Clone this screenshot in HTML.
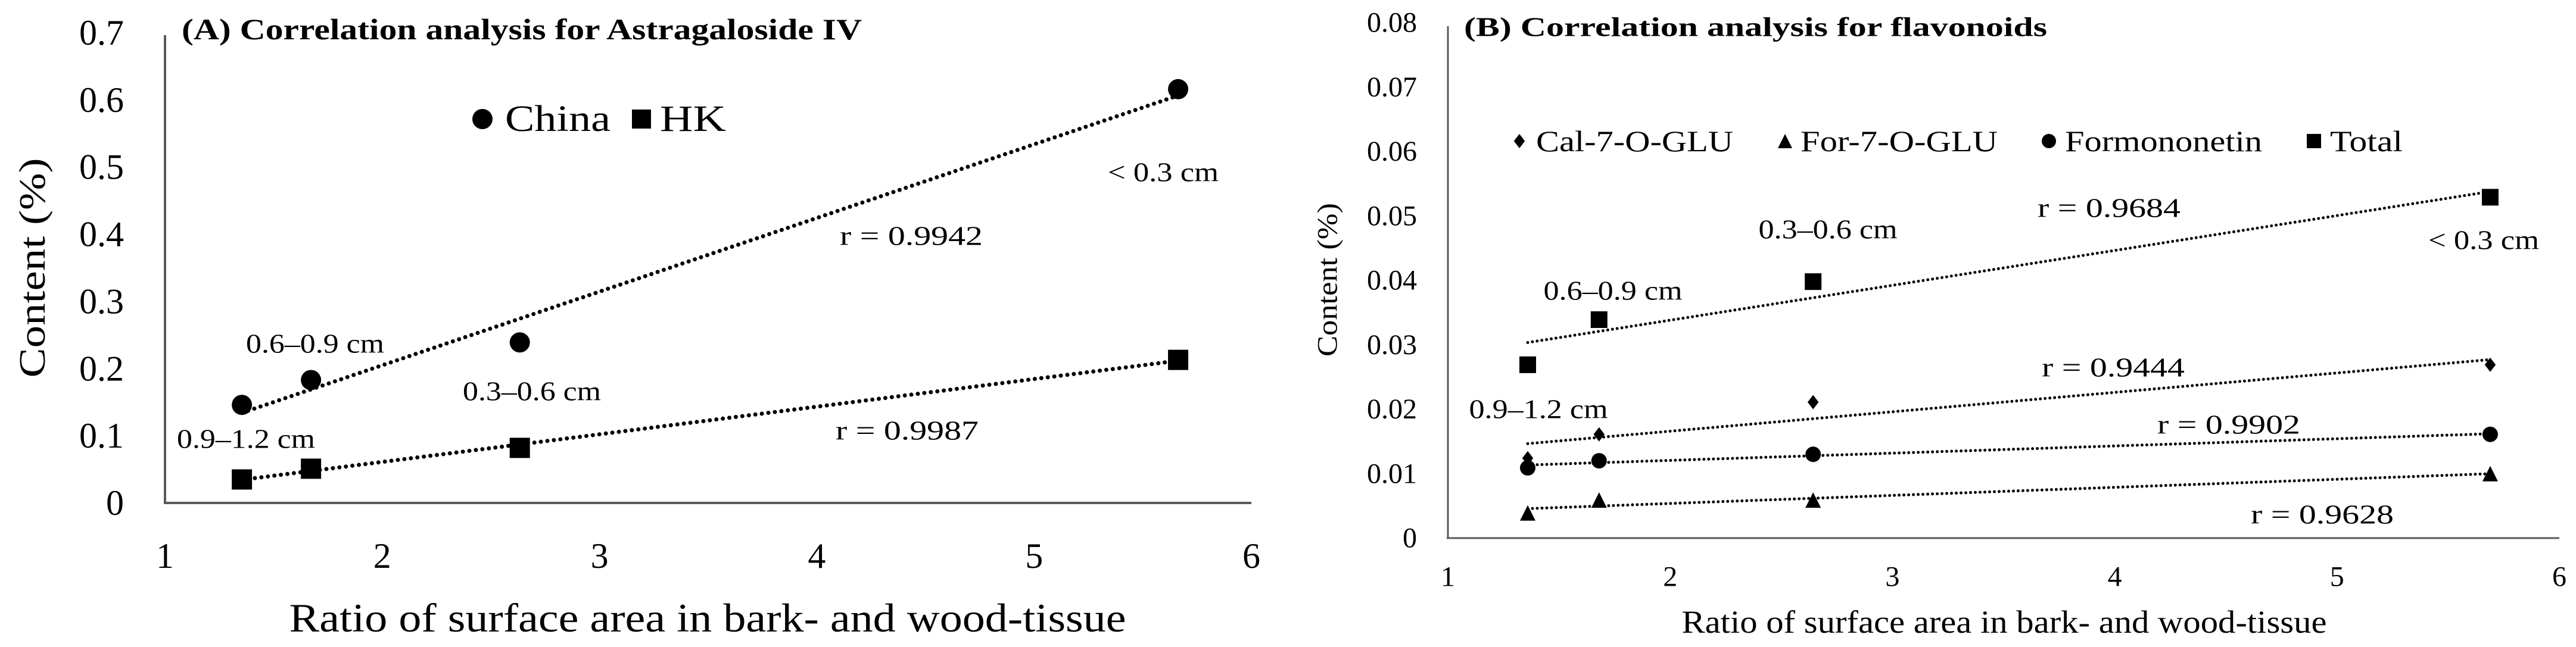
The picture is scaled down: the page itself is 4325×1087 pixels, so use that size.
<!DOCTYPE html>
<html><head><meta charset="utf-8"><style>
html,body{margin:0;padding:0;background:#fff;}
svg{display:block;font-family:"Liberation Serif",serif;}
</style></head><body>
<svg id="chart" width="4325" height="1087" viewBox="0 0 4325 1087" xmlns="http://www.w3.org/2000/svg"></svg>
<script>
// Panel A data
const aX = [1.354, 1.672, 2.633, 5.663];
const aChina = [0.146, 0.183, 0.239, 0.616];
const aHK = [0.035, 0.051, 0.082, 0.213];
const aYTicks = ["0","0.1","0.2","0.3","0.4","0.5","0.6","0.7"];
const aXTicks = ["1","2","3","4","5","6"];
// Panel B data
const bX = [1.359, 1.68, 2.643, 5.689];
const bCal = [0.0124, 0.0161, 0.0211, 0.0269];
const bFor = [0.0039, 0.0059, 0.0059, 0.0100];
const bFormo = [0.0109, 0.0120, 0.0130, 0.0161];
const bTotal = [0.0269, 0.0339, 0.0398, 0.0529];
const bYTicks = ["0","0.01","0.02","0.03","0.04","0.05","0.06","0.07","0.08"];
const bXTicks = ["1","2","3","4","5","6"];

const NS="http://www.w3.org/2000/svg";
const svg=document.getElementById('chart');
function mk(tag,attrs,parent){const e=document.createElementNS(NS,tag);for(const k in attrs)e.setAttribute(k,attrs[k]);(parent||svg).appendChild(e);return e;}
function txt(s,x,y,size,opts,parent){opts=opts||{};const a={x:x,y:y,'font-size':size,'text-anchor':opts.anchor||'middle','dominant-baseline':'central',fill:'#000'};
 if(opts.bold)a['font-weight']='bold'; if(opts.len){a.textLength=opts.len;a.lengthAdjust='spacingAndGlyphs';} if(opts.rot)a.transform=opts.rot;
 const t=mk('text',a,parent);t.textContent=s;return t;}
function regress(xs,ys){const n=xs.length;let sx=0,sy=0,sxx=0,sxy=0;for(let i=0;i<n;i++){sx+=xs[i];sy+=ys[i];sxx+=xs[i]*xs[i];sxy+=xs[i]*ys[i];}
 const m=(n*sxy-sx*sy)/(n*sxx-sx*sx);return {m:m,b:(sy-m*sx)/n};}
function marker(shape,cx,cy,s,parent){
 let e;
 if(shape==='circle') e=mk('ellipse',{cx:cx,cy:cy,rx:s/2,ry:s/2,fill:'#000'},parent);
 else if(shape==='square') e=mk('rect',{x:cx-s/2,y:cy-s/2,width:s,height:s,fill:'#000'},parent);
 else if(shape==='triangle') e=mk('polygon',{points:`${cx},${cy-s/2} ${cx+s/2},${cy+s/2} ${cx-s/2},${cy+s/2}`,fill:'#000'},parent);
 else e=mk('polygon',{points:`${cx},${cy-s/2} ${cx+s/2.6},${cy} ${cx},${cy+s/2} ${cx-s/2.6},${cy}`,fill:'#000'},parent);
 return e;}

// ---------- Panel A ----------
const gA=mk('g',{});


const ax0=277, ax1=2101, ay0=845, ay1=55;
const AX=v=>ax0+(v-1)/5*(ax1-ax0);
const AY=v=>ay0-v/0.7*(ay0-ay1);
let l=mk('line',{x1:ax0,y1:ay0,x2:ax0,y2:ay1+4,stroke:'#595959','stroke-width':4},gA);

l=mk('line',{x1:ax0-2,y1:ay0,x2:ax1,y2:ay0,stroke:'#595959','stroke-width':4},gA);

aYTicks.forEach(s=>{const t=txt(s,208,AY(parseFloat(s)),60,{anchor:'end'},gA);
 });
aXTicks.forEach(s=>{const t=txt(s,AX(parseFloat(s)),934,60,{},gA);
 });
let t=txt('Ratio of surface area in bark- and wood-tissue',1188,1038,68,{len:1405},gA);

t=txt('Content (%)',0,0,62,{len:369,rot:'translate(55,450) rotate(-90)'},gA);

t=txt('(A) Correlation analysis for Astragaloside IV',305,49,50,{anchor:'start',bold:true,len:1142},gA);

[[aChina,'circle','china'],[aHK,'square','hk']].forEach(([ys,sh,nm])=>{
 const r=regress(aX,ys);
 const tl=mk('line',{x1:AX(aX[0]),y1:AY(r.m*aX[0]+r.b),x2:AX(aX[3]),y2:AY(r.m*aX[3]+r.b),stroke:'#000','stroke-width':7,'stroke-linecap':'round','stroke-dasharray':'0 11'},gA);
 
 ys.forEach((v,i)=>{const m=marker(sh,AX(aX[i]),AY(v),34,gA);
  });
});
let m=marker('circle',810,200,34,gA);
t=txt('China',848,200,62,{anchor:'start',len:177},gA);
m=marker('square',1077,200,32,gA);
t=txt('HK',1108,200,62,{anchor:'start',len:111},gA);
[['0.6–0.9 cm',529,577,232],['0.3–0.6 cm',893,657,232],['0.9–1.2 cm',413,737,232],['< 0.3 cm',1953,289,186],['r = 0.9942',1530,396,240],['r = 0.9987',1523,723,240]].forEach(([s,x,y,w])=>{
 const a=txt(s,x,y,46,{len:w},gA);});

// ---------- Panel B ----------
const gB=mk('g',{});


const bx0=2431, bx1=4297, by0=904, by1=38;
const BX=v=>bx0+(v-1)/5*(bx1-bx0);
const BY=v=>by0-v/0.08*(by0-by1);
l=mk('line',{x1:bx0,y1:by0,x2:bx0,y2:by1+6,stroke:'#595959','stroke-width':3},gB);

l=mk('line',{x1:bx0-2,y1:by0,x2:bx1,y2:by0,stroke:'#595959','stroke-width':3},gB);

bYTicks.forEach(s=>{const a=txt(s,2379,BY(parseFloat(s)),48,{anchor:'end'},gB);
 });
bXTicks.forEach(s=>{const a=txt(s,BX(parseFloat(s)),969,48,{},gB);
 });
t=txt('Ratio of surface area in bark- and wood-tissue',3365,1045,54,{len:1083},gB);

t=txt('Content (%)',0,0,48,{len:258,rot:'translate(2229,470) rotate(-90)'},gB);

t=txt('(B) Correlation analysis for flavonoids',2458,45,46,{anchor:'start',bold:true,len:979},gB);

[[bTotal,'square','total',28],[bCal,'diamond','cal-7-o-glu',24],[bFormo,'circle','formononetin',26],[bFor,'triangle','for-7-o-glu',26]].forEach(([ys,sh,nm,sz])=>{
 const r=regress(bX,ys);
 const tl=mk('line',{x1:BX(bX[0]),y1:BY(r.m*bX[0]+r.b),x2:BX(bX[3]),y2:BY(r.m*bX[3]+r.b),stroke:'#000','stroke-width':5,'stroke-linecap':'round','stroke-dasharray':'0 8'},gB);
 
 ys.forEach((v,i)=>{const mm=marker(sh,BX(bX[i]),BY(v),sz,gB);
  });
});
[['diamond',2551,'Cal-7-O-GLU',2579,331],['triangle',2997,'For-7-O-GLU',3023,331],['circle',3440,'Formononetin',3467,331],['square',3885,'Total',3912,122]].forEach(([sh,mx,s,tx,w])=>{
 const mm=marker(sh,mx,237,24,gB);
 const a=txt(s,tx,237,50,{anchor:'start',len:w},gB);});
[['0.9–1.2 cm',2583,687,233],['0.6–0.9 cm',2708,488,233],['0.3–0.6 cm',3069,385,233],['< 0.3 cm',4170,403,186],['r = 0.9684',3541,349,240],['r = 0.9444',3548,617,240],['r = 0.9902',3742,713,240],['r = 0.9628',3899,864,240]].forEach(([s,x,y,w])=>{
 const a=txt(s,x,y,46,{len:w},gB);});
</script>
</body></html>
